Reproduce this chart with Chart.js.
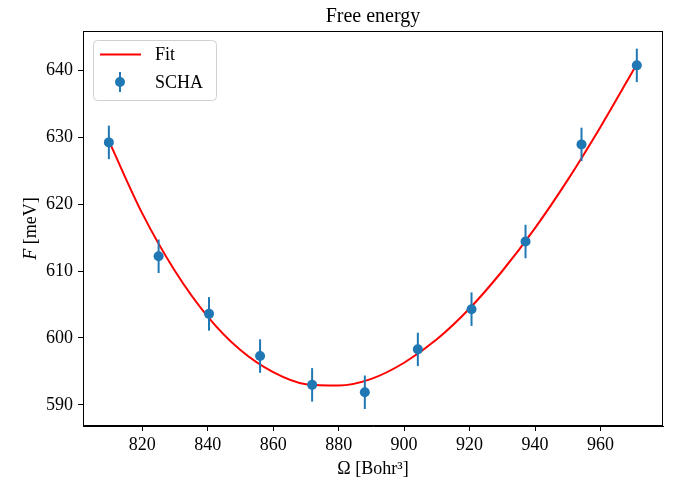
<!DOCTYPE html>
<html>
<head>
<meta charset="utf-8">
<script src="https://cdn.jsdelivr.net/npm/chart.js@4/dist/chart.umd.min.js"></script>
<style>
  html, body { margin: 0; padding: 0; background: #fff; }
  #wrap { width: 679px; height: 485px; }
</style>
</head>
<body>
<div id="wrap"><canvas id="myChart" width="679" height="485"></canvas></div>
<script>
// Data
var volumes = [809.8, 825.0, 840.4, 856.0, 871.9, 888.0, 904.2, 920.6, 937.1, 954.2, 971.1];
var energies = [629.2, 612.2, 603.6, 597.3, 593.0, 591.9, 598.3, 604.3, 614.4, 628.9, 640.7];
var energyErr = [2.5, 2.5, 2.5, 2.5, 2.5, 2.5, 2.5, 2.5, 2.5, 2.5, 2.5];

// Fit curve
var fitVolumes = [810, 820, 830, 840, 850, 860, 870, 880, 890, 900, 910, 920, 930, 940, 950, 960, 971];
var fitEnergies = [629.2, 618.6, 610.0, 603.2, 598.2, 594.9, 593.1, 592.9, 593.9, 596.3, 599.8, 604.4, 610.0, 616.4, 623.6, 631.5, 640.8];

var xTicks = [820, 840, 860, 880, 900, 920, 940, 960];
var yTicks = [590, 600, 610, 620, 630, 640];

var serif = "'Liberation Serif', 'DejaVu Serif', serif";
var blue = "#1f77b4";

// error bars under the markers
var errorBars = {
  id: "errorBars",
  beforeDatasetDraw: function (chart, args) {
    if (args.index !== 0) return;
    var ctx = chart.ctx;
    var xs = chart.scales.x, ys = chart.scales.y;
    ctx.save();
    ctx.strokeStyle = blue;
    ctx.lineWidth = 2;
    for (var i = 0; i < volumes.length; i++) {
      var px = xs.getPixelForValue(volumes[i]);
      ctx.beginPath();
      ctx.moveTo(px, ys.getPixelForValue(energies[i] - energyErr[i]));
      ctx.lineTo(px, ys.getPixelForValue(energies[i] + energyErr[i]));
      ctx.stroke();
    }
    ctx.restore();
  }
};

// frame, title, axis labels, legend
var decorations = {
  id: "decorations",
  afterDraw: function (chart) {
    var ctx = chart.ctx;
    var a = chart.chartArea;
    var cx = (a.left + a.right) / 2;
    ctx.save();
    ctx.strokeStyle = "#000";
    ctx.lineWidth = 1;
    ctx.strokeRect(a.left + 0.5, a.top + 0.5, a.right - a.left - 1, a.bottom - a.top - 1);

    ctx.fillStyle = "#000";
    ctx.textAlign = "center";
    ctx.textBaseline = "alphabetic";
    ctx.font = "20px " + serif;
    ctx.fillText("Free energy", cx, 22);

    ctx.font = "18px " + serif;
    ctx.fillText("\u03A9 [Bohr\u00B3]", cx, 474);

    // y label: italic F + [meV]
    ctx.translate(36, (a.top + a.bottom) / 2);
    ctx.rotate(-Math.PI / 2);
    ctx.textAlign = "left";
    var f1 = "italic 18px " + serif, f2 = "18px " + serif;
    ctx.font = f1;
    var w1 = ctx.measureText("F ").width;
    ctx.font = f2;
    var w2 = ctx.measureText("[meV]").width;
    var start = -(w1 + w2) / 2;
    ctx.font = f1;
    ctx.fillText("F ", start, 0);
    ctx.font = f2;
    ctx.fillText("[meV]", start + w1, 0);
    ctx.setTransform(1, 0, 0, 1, 0, 0);

    // legend
    var lx = 93, ly = 40, lw = 123, lh = 60;
    ctx.fillStyle = "rgba(255,255,255,0.8)";
    ctx.strokeStyle = "#d0d0d0";
    ctx.lineWidth = 1;
    ctx.beginPath();
    ctx.roundRect(lx + 0.5, ly + 0.5, lw, lh, 4);
    ctx.fill();
    ctx.stroke();

    ctx.strokeStyle = "#ff0000";
    ctx.lineWidth = 2;
    ctx.beginPath();
    ctx.moveTo(100, 54.5);
    ctx.lineTo(141, 54.5);
    ctx.stroke();

    ctx.strokeStyle = blue;
    ctx.beginPath();
    ctx.moveTo(120, 72);
    ctx.lineTo(120, 92);
    ctx.stroke();
    ctx.fillStyle = blue;
    ctx.beginPath();
    ctx.arc(120, 82, 5, 0, Math.PI * 2);
    ctx.fill();

    ctx.fillStyle = "#000";
    ctx.font = "18px " + serif;
    ctx.textBaseline = "middle";
    ctx.fillText("Fit", 155, 55);
    ctx.fillText("SCHA", 155, 83);
    ctx.restore();
  }
};

var ctx = document.getElementById("myChart").getContext("2d");
var myChart = new Chart(ctx, {
  type: "scatter",
  data: {
    datasets: [{
      label: "SCHA",
      data: volumes.map(function (v, i) { return { x: v, y: energies[i] }; }),
      backgroundColor: blue,
      borderColor: blue,
      pointRadius: 5,
      pointBorderWidth: 0,
      showLine: false
    }, {
      label: "Fit",
      type: "line",
      data: fitVolumes.map(function (v, i) { return { x: v, y: fitEnergies[i] }; }),
      borderColor: "#ff0000",
      borderWidth: 2,
      pointRadius: 0,
      fill: false,
      tension: 0.4,
      cubicInterpolationMode: "monotone"
    }]
  },
  options: {
    responsive: false,
    animation: false,
    events: [],
    layout: { padding: { top: 31, right: 16, left: 0, bottom: 0 } },
    plugins: { legend: { display: false }, title: { display: false }, tooltip: { enabled: false } },
    scales: {
      x: {
        type: "linear",
        min: 801.9,
        max: 979.1,
        afterBuildTicks: function (scale) { scale.ticks = xTicks.map(function (v) { return { value: v }; }); },
        afterFit: function (scale) { scale.height = 59; },
        grid: { drawOnChartArea: false, drawTicks: true, tickLength: 5, color: "#000", lineWidth: 1 },
        border: { display: true, color: "#000", width: 1 },
        ticks: { color: "#000", font: { family: serif, size: 18 }, padding: 3, maxRotation: 0 }
      },
      y: {
        type: "linear",
        min: 586.86,
        max: 645.83,
        afterBuildTicks: function (scale) { scale.ticks = yTicks.map(function (v) { return { value: v }; }); },
        afterFit: function (scale) { scale.width = 83; },
        grid: { drawOnChartArea: false, drawTicks: true, tickLength: 5, color: "#000", lineWidth: 1 },
        border: { display: true, color: "#000", width: 1 },
        ticks: { color: "#000", font: { family: serif, size: 18 }, padding: 5 }
      }
    }
  },
  plugins: [errorBars, decorations]
});
</script>
</body>
</html>
